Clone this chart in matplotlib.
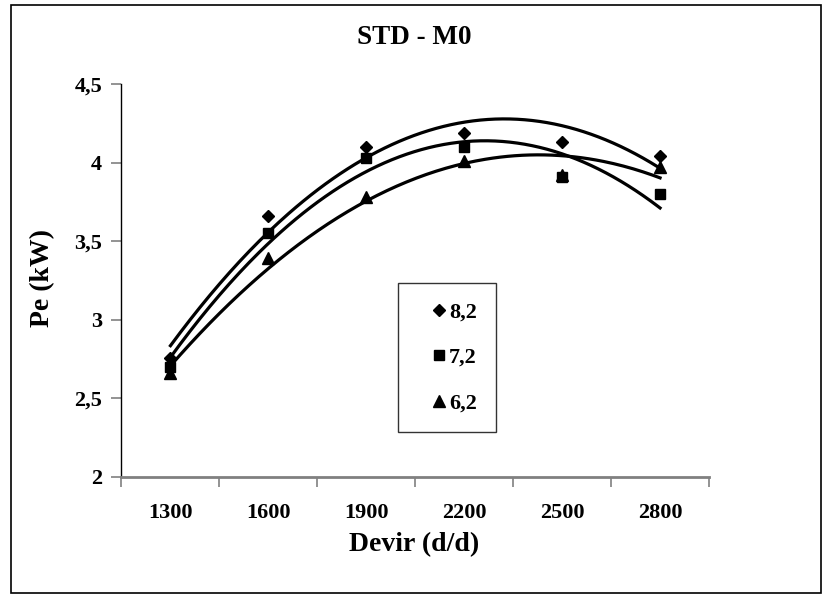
import matplotlib
matplotlib.use("Agg")
import matplotlib.pyplot as plt
import numpy as np
from matplotlib.patches import Rectangle

plt.rcParams["font.family"] = ["Liberation Serif", "DejaVu Serif"]
plt.rcParams["font.weight"] = "bold"

# engine speed categories and brake power for three compression ratios
rpm = ["1300", "1600", "1900", "2200", "2500", "2800"]
pe_82 = [2.76, 3.66, 4.10, 4.19, 4.13, 4.04]
pe_72 = [2.70, 3.55, 4.03, 4.10, 3.91, 3.80]
pe_62 = [2.66, 3.39, 3.78, 4.01, 3.92, 3.97]
series_names = ["8,2", "7,2", "6,2"]
series_markers = ["D", "s", "^"]
marker_sizes = [6.5, 6.5, 8]

fig = plt.figure(figsize=(8.23, 5.96), dpi=100)
ax = fig.add_axes([121.5 / 823, 1 - 477 / 596, 587.5 / 823, 393 / 596])

# chart border
fig.patches.append(Rectangle((11 / 823, 3 / 596), 810 / 823, 588 / 596,
                             transform=fig.transFigure, fill=False,
                             edgecolor="black", linewidth=1.2))

x = np.arange(1, len(rpm) + 1)
xs = np.linspace(1, len(rpm), 200)
handles = []
for vals, name, mk, ms in zip([pe_82, pe_72, pe_62], series_names,
                              series_markers, marker_sizes):
    h, = ax.plot(x, vals, linestyle="none", marker=mk, markersize=ms,
                 color="black", label=name, zorder=3)
    handles.append(h)
    # 2nd order polynomial trend line
    coef = np.polyfit(x, vals, 2)
    ax.plot(xs, np.polyval(coef, xs), color="black", linewidth=2.3, zorder=2)

ax.set_xlim(0.5, len(rpm) + 0.5)
ax.set_ylim(2, 4.5)
ax.set_xticks(np.arange(0.5, len(rpm) + 1, 1))
ax.set_xticklabels([])
ax.set_xticks(x, minor=True)
ax.set_xticklabels(rpm, minor=True, fontsize=16, fontweight="bold")
ax.tick_params(axis="x", which="major", direction="out", length=7,
               width=1.2, color="#808080")
ax.tick_params(axis="x", which="minor", length=0, pad=19)

yt = [2, 2.5, 3, 3.5, 4, 4.5]
ax.set_yticks(yt)
ax.set_yticklabels([f"{v:g}".replace(".", ",") for v in yt],
                   fontsize=16, fontweight="bold")
ax.tick_params(axis="y", direction="out", length=7, width=1.2,
               color="#808080", pad=7)

for side in ["top", "right"]:
    ax.spines[side].set_visible(False)
ax.spines["left"].set_color("black")
ax.spines["left"].set_linewidth(1.0)
ax.spines["bottom"].set_color("#808080")
ax.spines["bottom"].set_linewidth(2.0)

fig.text(414 / 823, 1 - 38 / 596, "STD - M0", ha="center", va="center",
         fontsize=19.5, fontweight="bold")
fig.text(414 / 823, 1 - 545 / 596, "Devir (d/d)", ha="center", va="center",
         fontsize=20, fontweight="bold")
fig.text(43 / 823, 1 - 278 / 596, "Pe (kW)", ha="center", va="center",
         rotation=90, fontsize=20, fontweight="bold")

leg = ax.legend(handles=handles, loc="upper left",
                bbox_to_anchor=((398 - 121.5) / 587.5, (477 - 283) / 393),
                borderaxespad=0, frameon=True, fancybox=False,
                edgecolor="black", handlelength=2.0, handletextpad=-0.55,
                borderpad=0.85, labelspacing=1.12,
                prop={"size": 16, "weight": "bold"})
leg.get_frame().set_linewidth(1.0)

fig.savefig("out.png", dpi=100)
